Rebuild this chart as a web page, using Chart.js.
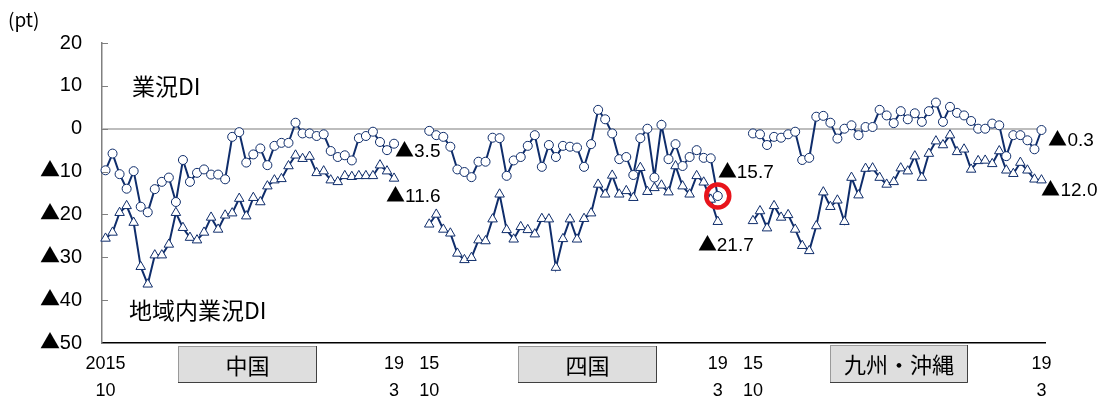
<!DOCTYPE html>
<html lang="ja">
<head>
<meta charset="utf-8">
<script src="https://cdn.jsdelivr.net/npm/chart.js@4.4.1/dist/chart.umd.min.js"></script>
<style>
  html, body { margin: 0; padding: 0; background: #fff; }
  #wrap { width: 1105px; height: 400px; position: relative; }
  /* take only the ▲ glyph from the CJK font, it is larger there */
  @font-face {
    font-family: 'TriMark';
    src: local('Noto Sans CJK JP Regular'), local('NotoSansCJKjp-Regular'), local('Noto Sans CJK JP');
    unicode-range: U+25B2;
  }
</style>
</head>
<body>
<div id="wrap"><canvas id="diChart"></canvas></div>
<script>
// 業況DI / 地域内業況DI, 2015/10 - 2019/3 monthly, per region
const regions = ['中国', '四国', '九州・沖縄'];

const chugokuBiz = [-9.7, -5.8, -10.6, -14.0, -9.9, -18.2, -19.5, -14.1, -12.4, -11.4, -17.1, -7.3, -12.4, -10.3, -9.5, -10.7, -10.7, -11.8, -1.9, -0.8, -7.9, -6.0, -4.6, -8.5, -4.0, -3.3, -3.3, 1.4, -1.1, -1.1, -1.7, -1.3, -5.2, -6.6, -6.2, -7.4, -2.2, -1.7, -0.7, -3.1, -5.0, -3.5];
const chugokuLocal = [-25.6, -24.2, -19.6, -18.0, -21.9, -32.2, -36.3, -29.5, -29.5, -27.0, -19.6, -23.1, -25.4, -26.0, -24.2, -20.7, -23.5, -20.2, -19.7, -16.3, -20.4, -16.1, -17.1, -13.4, -12.0, -11.7, -8.7, -6.2, -7.0, -6.5, -10.3, -9.9, -12.0, -12.4, -11.0, -11.2, -11.0, -11.0, -11.0, -8.5, -9.9, -11.6];

const shikokuBiz = [-0.5, -1.5, -1.9, -4.2, -9.5, -10.1, -11.3, -7.7, -7.7, -2.1, -2.2, -11.0, -7.4, -6.6, -4.0, -1.5, -8.9, -3.8, -6.6, -4.0, -4.2, -4.4, -8.9, -3.6, 4.4, 2.2, -1.1, -7.1, -6.6, -10.8, -2.2, 0.0, -11.4, 0.9, -7.1, -3.6, -8.7, -6.6, -5.0, -6.8, -6.9, -15.7];
const shikokuLocal = [-22.3, -20.0, -23.5, -24.4, -29.1, -30.6, -30.1, -26.0, -26.2, -21.1, -15.3, -23.6, -25.8, -22.9, -23.6, -24.6, -21.0, -21.1, -32.4, -25.7, -21.1, -25.8, -21.0, -19.7, -13.0, -15.3, -10.9, -15.3, -14.5, -16.1, -9.1, -14.7, -13.8, -13.2, -14.8, -8.7, -13.4, -15.3, -11.0, -12.5, -16.5, -21.7];

const kyushuBiz = [-1.1, -1.3, -3.8, -1.9, -2.1, -1.3, -0.7, -7.3, -6.8, 2.8, 3.0, 1.4, -2.3, 0.0, 0.8, -1.5, 0.4, 0.4, 4.4, 3.1, 1.3, 4.1, 2.2, 3.6, 1.6, 4.1, 6.1, 1.6, 5.1, 3.7, 3.1, 1.8, 0.0, 0.0, 1.2, 0.8, -6.4, -1.5, -1.5, -2.7, -4.8, -0.3];
const kyushuLocal = [-21.5, -19.2, -23.2, -18.0, -20.7, -20.1, -23.5, -27.3, -28.5, -22.7, -14.8, -18.2, -16.7, -21.7, -11.4, -15.5, -9.3, -9.2, -11.4, -13.0, -12.4, -9.2, -9.9, -6.4, -11.4, -5.8, -2.9, -3.8, -1.5, -5.4, -4.8, -9.5, -7.5, -7.4, -8.2, -5.2, -9.7, -10.5, -7.9, -9.7, -11.8, -12.0];

// tick labels at the start / end of each panel
const tickTop = ['2015', '19', '15', '19', '15', '19'];
const tickBottom = ['10', '3', '10', '3', '10', '3'];
const yTicks = [20, 10, 0, -10, -20, -30, -40, -50];

const GAP = 4; // empty months between panels
const gapArr = new Array(GAP).fill(null);
const bizAll = [...chugokuBiz, ...gapArr, ...shikokuBiz, ...gapArr, ...kyushuBiz];
const localAll = [...chugokuLocal, ...gapArr, ...shikokuLocal, ...gapArr, ...kyushuLocal];
const labels = bizAll.map((_, i) => String(i));

const panelLen = chugokuBiz.length;
const edgeIdx = [0, panelLen - 1, panelLen + GAP, 2 * panelLen + GAP - 1, 2 * panelLen + 2 * GAP, 3 * panelLen + 2 * GAP - 1];

const NAVY = '#0f2d6b';
const JP = '"Noto Sans CJK JP", sans-serif';
const NUM = 'TriMark, "Liberation Sans", "Noto Sans CJK JP", sans-serif';

function tri(v) {
  if (v === 0) return '0';
  return v < 0 ? '▲' + Math.abs(v) : String(v);
}
function triFix(v) {
  return v < 0 ? '▲' + Math.abs(v).toFixed(1) : v.toFixed(1);
}

// end-of-panel value labels: [series, index, dx, dy]
const endLabels = [
  [bizAll, edgeIdx[1], 1, 8],
  [localAll, edgeIdx[1], -8, 18],
  [bizAll, edgeIdx[3], 0, -23],
  [localAll, edgeIdx[3], -20, 24],
  [bizAll, edgeIdx[5], 7, 11],
  [localAll, edgeIdx[5], 0, 11]
];

const boxes = [
  [178, 346, 139, 37],
  [518, 346, 139, 37],
  [830, 345, 138, 38]
];

const decor = {
  id: 'decor',
  afterDraw(chart) {
    const ctx = chart.ctx;
    const xs = chart.scales.x, ys = chart.scales.y;
    ctx.save();

    // inner tick marks on y axis
    ctx.strokeStyle = '#808080';
    ctx.lineWidth = 1;
    yTicks.forEach(v => {
      const y = Math.round(ys.getPixelForValue(v)) + 0.5;
      ctx.beginPath();
      ctx.moveTo(xs.left, y);
      ctx.lineTo(xs.left + 6, y);
      ctx.stroke();
    });

    ctx.fillStyle = '#000';
    ctx.textBaseline = 'middle';
    ctx.textAlign = 'left';
    ctx.font = '19px ' + JP;
    ctx.fillText('(pt)', 8, 20);

    ctx.font = '23px ' + JP;
    ctx.fillText('業況DI', 132, 86);
    ctx.fillText('地域内業況DI', 129, 310);

    // values at panel ends
    ctx.font = '19px ' + NUM;
    endLabels.forEach(([arr, i, dx, dy]) => {
      const px = xs.getPixelForValue(i);
      const py = ys.getPixelForValue(arr[i]);
      ctx.fillText(triFix(arr[i]), px + dx, py + dy);
    });

    // red ring around the latest 四国 業況DI point
    const ri = edgeIdx[3];
    ctx.strokeStyle = '#e8141b';
    ctx.lineWidth = 4.5;
    ctx.beginPath();
    ctx.arc(xs.getPixelForValue(ri), ys.getPixelForValue(bizAll[ri]), 11.5, 0, Math.PI * 2);
    ctx.stroke();

    // region name boxes
    boxes.forEach(([bx, by, bw, bh], k) => {
      ctx.fillStyle = '#dedede';
      ctx.fillRect(bx, by, bw, bh);
      ctx.strokeStyle = '#9a9a9a';
      ctx.lineWidth = 1;
      ctx.strokeRect(bx + 0.5, by + 0.5, bw - 1, bh - 1);
      ctx.strokeStyle = '#404040';
      ctx.beginPath();
      ctx.moveTo(bx + bw - 0.5, by);
      ctx.lineTo(bx + bw - 0.5, by + bh - 0.5);
      ctx.lineTo(bx, by + bh - 0.5);
      ctx.stroke();
      ctx.fillStyle = '#000';
      ctx.textAlign = 'center';
      ctx.font = '22px ' + JP;
      ctx.fillText(regions[k], bx + bw / 2, by + bh / 2 + 1);
    });
    ctx.restore();
  }
};

function drawChart() {
  new Chart(document.getElementById('diChart'), {
    type: 'line',
    data: {
      labels: labels,
      datasets: [
        {
          label: '業況DI',
          data: bizAll,
          borderColor: NAVY,
          borderWidth: 2,
          pointStyle: 'circle',
          pointRadius: 4.5,
          pointBorderWidth: 1,
          pointBackgroundColor: '#fff',
          pointBorderColor: NAVY,
          spanGaps: false,
          tension: 0
        },
        {
          label: '地域内業況DI',
          data: localAll,
          borderColor: NAVY,
          borderWidth: 2,
          pointStyle: 'triangle',
          pointRadius: 5.5,
          pointBorderWidth: 1,
          pointBackgroundColor: '#fff',
          pointBorderColor: NAVY,
          spanGaps: false,
          tension: 0
        }
      ]
    },
    options: {
      responsive: true,
      maintainAspectRatio: false,
      animation: false,
      clip: false,
      layout: { padding: { top: 43, right: 60, left: 0, bottom: 0 } },
      plugins: {
        legend: { display: false },
        tooltip: { enabled: false }
      },
      scales: {
        x: {
          type: 'category',
          offset: true,
          grid: { display: false, drawTicks: false },
          border: { display: true, color: '#000', width: 1.5 },
          afterFit: s => { s.height = 57; },
          ticks: {
            autoSkip: false,
            maxRotation: 0,
            padding: 8,
            color: '#000',
            font: { size: 18, family: '"Liberation Sans Narrow", "Liberation Sans", sans-serif', lineHeight: 1.5 },
            callback: (val, i) => {
              const k = edgeIdx.indexOf(i);
              return k >= 0 ? [tickTop[k], tickBottom[k]] : '';
            }
          }
        },
        y: {
          min: -50,
          max: 20,
          afterFit: s => { s.width = 102; },
          afterBuildTicks: s => { s.ticks = yTicks.map(v => ({ value: v })); },
          grid: {
            drawTicks: false,
            lineWidth: 2,
            color: c => (c.tick && c.tick.value === 0 ? '#bdbdbd' : 'rgba(0,0,0,0)')
          },
          border: { display: true, color: '#808080', width: 1.5 },
          ticks: {
            padding: 20,
            color: '#000',
            font: { size: 20, family: NUM },
            callback: v => tri(v)
          }
        }
      }
    },
    plugins: [decor]
  });
}

document.fonts.load('20px TriMark', '▲').then(drawChart, drawChart);
</script>
</body>
</html>
